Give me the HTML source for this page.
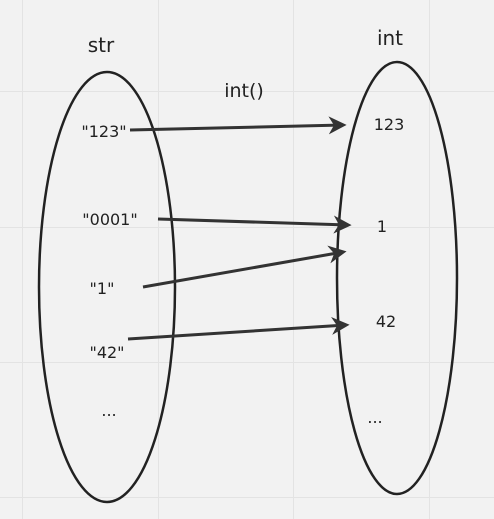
<!DOCTYPE html>
<html><head><meta charset="utf-8"><style>
html,body{margin:0;padding:0;background:#f2f2f2}
svg{display:block}
text{font-family:"DejaVu Sans","Liberation Sans",sans-serif;fill:#222}
</style></head><body>
<svg width="494" height="519" viewBox="0 0 494 519">
<g stroke="#e3e3e3" stroke-width="1">
<line x1="22.5" y1="0" x2="22.5" y2="519"/><line x1="158.5" y1="0" x2="158.5" y2="519"/>
<line x1="293.5" y1="0" x2="293.5" y2="519"/><line x1="429.5" y1="0" x2="429.5" y2="519"/>
<line x1="0" y1="91.5" x2="494" y2="91.5"/><line x1="0" y1="227.5" x2="494" y2="227.5"/>
<line x1="0" y1="362.5" x2="494" y2="362.5"/><line x1="0" y1="497.5" x2="494" y2="497.5"/>
</g>
<ellipse cx="107" cy="287" rx="68" ry="215" fill="none" stroke="#222" stroke-width="2.5"/>
<ellipse cx="397" cy="278" rx="60" ry="216" fill="none" stroke="#222" stroke-width="2.5"/>
<text x="101" y="52" font-size="20" text-anchor="middle">str</text>
<text x="390" y="45" font-size="20" text-anchor="middle">int</text>
<text x="244" y="97" font-size="19" text-anchor="middle">int()</text>
<g font-size="16" text-anchor="middle">
<text x="104" y="137">"123"</text>
<text x="110" y="225">"0001"</text>
<text x="102" y="294">"1"</text>
<text x="107" y="358">"42"</text>
<text x="109" y="416">...</text>
<text x="389" y="130">123</text>
<text x="382" y="232">1</text>
<text x="386" y="327">42</text>
<text x="375" y="423">...</text>
</g>
<defs><marker id="ah" viewBox="0 0 10 10" refX="8" refY="5" markerWidth="6" markerHeight="6" orient="auto"><path d="M0,0 L10,5 L0,10 L3,5 z" fill="#333"/></marker></defs>
<g stroke="#333" stroke-width="3" fill="none" marker-end="url(#ah)">
<line x1="130" y1="130" x2="343" y2="125"/>
<line x1="158" y1="219" x2="348" y2="225"/>
<line x1="143" y1="287" x2="343" y2="252"/>
<line x1="128" y1="339" x2="346" y2="325"/>
</g>
</svg>
</body></html>
